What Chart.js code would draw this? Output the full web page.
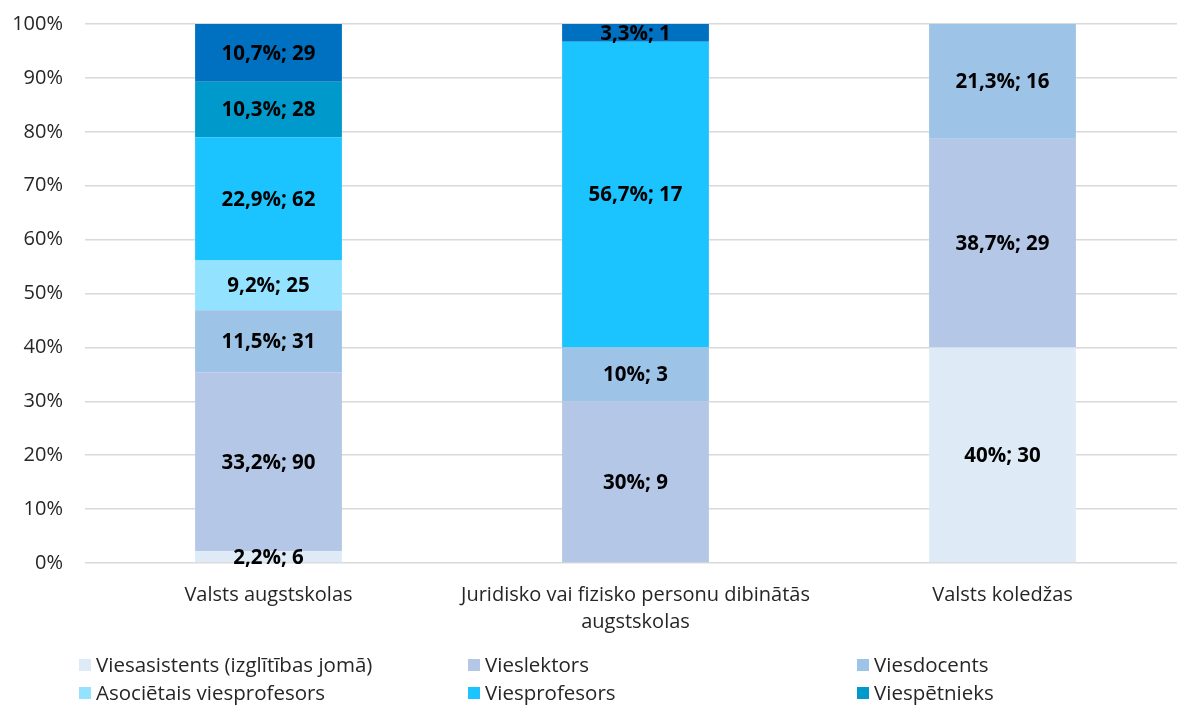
<!DOCTYPE html>
<html>
<head>
<meta charset="utf-8">
<script src="https://cdn.jsdelivr.net/npm/chart.js@4.4.0/dist/chart.umd.min.js"></script>
<style>
  html, body { margin: 0; padding: 0; background: #fff; overflow: hidden; }
  #wrap { width: 1186px; height: 716px; position: relative; top: -10px; }
</style>
</head>
<body>
<div id="wrap"><canvas id="chart"></canvas></div>
<script>
const categories = [
    'Valsts augstskolas',
    ['Juridisko vai fizisko personu dibinātās', 'augstskolas'],
    'Valsts koledžas'
];

// share of each group, % (as shown in the labels)
const pctAsistents = [2.2, 0, 40];
const pctLektors = [33.2, 30, 38.7];
const pctDocents = [11.5, 10, 21.3];
const pctAsocProf = [9.2, 0, 0];
const pctProfesors = [22.9, 56.7, 0];
const pctPetnieks = [10.3, 0, 0];
const pctVadPetnieks = [10.7, 3.3, 0];

// head counts
const cntAsistents = [6, 0, 30];
const cntLektors = [90, 9, 29];
const cntDocents = [31, 3, 16];
const cntAsocProf = [25, 0, 0];
const cntProfesors = [62, 17, 0];
const cntPetnieks = [28, 0, 0];
const cntVadPetnieks = [29, 1, 0];

const yTicks = [0, 10, 20, 30, 40, 50, 60, 70, 80, 90, 100];

const FONT = '"Open Sans", sans-serif';
const TEXT = '#262626';

const mkSet = (label, pct, cnt, color, inLegend) => ({
    label: label,
    data: pct,
    counts: cnt,
    backgroundColor: color,
    inLegend: inLegend,
    borderWidth: 0,
    barPercentage: 0.4,
    categoryPercentage: 1,
});

const datasets = [
    mkSet('Viesasistents (izglītības jomā)', pctAsistents, cntAsistents, '#DEEBF7', true),
    mkSet('Vieslektors', pctLektors, cntLektors, '#B4C7E7', true),
    mkSet('Viesdocents', pctDocents, cntDocents, '#9DC3E6', true),
    mkSet('Asociētais viesprofesors', pctAsocProf, cntAsocProf, '#93E2FF', true),
    mkSet('Viesprofesors', pctProfesors, cntProfesors, '#1BC4FF', true),
    mkSet('Viespētnieks', pctPetnieks, cntPetnieks, '#0099CC', true),
    mkSet('Vadošais viespētnieks', pctVadPetnieks, cntVadPetnieks, '#0070C0', false),
];

const fmtPct = v => String(v).replace('.', ',') + '%';

// labels "pct; count" in the middle of each segment
const barLabels = {
    id: 'barLabels',
    afterDatasetsDraw(chart) {
        const ctx = chart.ctx;
        ctx.save();
        ctx.font = 'bold 20.5px ' + FONT;
        ctx.fillStyle = '#000';
        ctx.textAlign = 'center';
        ctx.textBaseline = 'middle';
        chart.data.datasets.forEach((ds, i) => {
            const meta = chart.getDatasetMeta(i);
            meta.data.forEach((bar, j) => {
                if (!ds.data[j]) return;
                const p = bar.getProps(['x', 'y', 'base'], true);
                ctx.fillText(fmtPct(ds.data[j]) + '; ' + ds.counts[j], p.x, (p.y + p.base) / 2 + 1);
            });
        });
        ctx.restore();
    }
};

// three-column legend under the chart (canvas is shifted up by 10px)
const gridLegend = {
    id: 'gridLegend',
    afterDraw(chart) {
        const ctx = chart.ctx;
        const colX = [79, 468, 857];
        const rowY = [675, 703];
        ctx.save();
        ctx.font = '20.5px ' + FONT;
        ctx.textBaseline = 'middle';
        chart.data.datasets.filter(d => d.inLegend).forEach((ds, k) => {
            const x = colX[k % 3], y = rowY[Math.floor(k / 3)];
            ctx.fillStyle = ds.backgroundColor;
            ctx.fillRect(x, y - 6, 12, 12);
            ctx.fillStyle = TEXT;
            ctx.fillText(ds.label, x + 17, y + 1);
        });
        ctx.restore();
    }
};

const config = {
    type: 'bar',
    data: { labels: categories, datasets: datasets },
    options: {
        responsive: true,
        maintainAspectRatio: false,
        animation: false,
        layout: { padding: { top: 13, right: 0, bottom: 63, left: 0 } },
        scales: {
            x: {
                stacked: true,
                grid: { display: false },
                border: { display: false },
                ticks: {
                    color: TEXT,
                    font: { family: FONT, size: 20, lineHeight: 1.35 },
                    padding: 11,
                    maxRotation: 0,
                    autoSkip: false,
                },
                afterFit: s => { s.height = 80; },
            },
            y: {
                stacked: true,
                min: 0,
                max: 100,
                afterBuildTicks: s => { s.ticks = yTicks.map(v => ({ value: v })); },
                grid: { color: '#D9D9D9', lineWidth: 1.5, drawTicks: false },
                border: { display: false },
                ticks: {
                    color: TEXT,
                    font: { family: FONT, size: 20 },
                    padding: 22,
                    callback: v => v + '%',
                },
                afterFit: s => { s.width = 85; },
            },
        },
        plugins: {
            legend: { display: false },
            tooltip: { enabled: false },
        },
    },
    plugins: [barLabels, gridLegend],
};

new Chart(document.getElementById('chart'), config);
</script>
</body>
</html>
